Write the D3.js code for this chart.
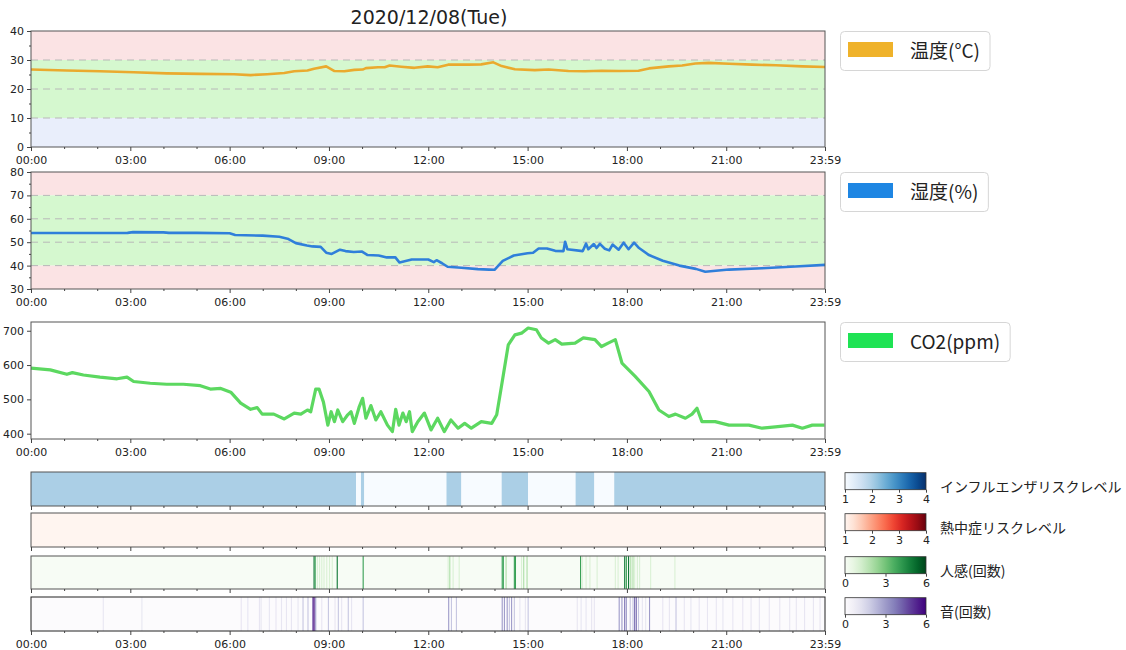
<!DOCTYPE html>
<html>
<head>
<meta charset="utf-8">
<script src="https://cdn.jsdelivr.net/npm/d3@7"></script>
<style>
  body { margin: 0; background: #fff; }
  svg text { font-family: "DejaVu Sans", sans-serif; fill: #222; }
  svg text.jp { font-family: "Noto Sans CJK JP", sans-serif; }
</style>
</head>
<body>
<main></main>
<script>
//Sensor day chart with D3

//Data
const tickLabels = ["00:00", "03:00", "06:00", "09:00", "12:00", "15:00", "18:00", "21:00", "23:59"];

const tempData = [
  ["00:00", 26.7], ["01:05", 26.4], ["02:05", 26.1], ["03:06", 25.8], ["04:06", 25.4], ["05:07", 25.2],
  ["06:08", 25.1], ["06:38", 24.8], ["07:08", 25.1], ["07:39", 25.5], ["07:57", 26.1], ["08:21", 26.4],
  ["08:33", 27.0], ["08:55", 27.8], ["09:10", 26.2], ["09:28", 26.1], ["09:46", 26.6], ["10:01", 26.7],
  ["10:07", 27.2], ["10:29", 27.5], ["10:41", 27.5], ["10:50", 28.1], ["11:11", 27.7], ["11:35", 27.3],
  ["11:59", 27.8], ["12:17", 27.5], ["12:36", 28.4], ["13:12", 28.4], ["13:36", 28.5], ["13:58", 29.2],
  ["14:13", 27.9], ["14:37", 26.8], ["15:13", 26.5], ["15:38", 26.7], ["16:14", 26.2], ["16:44", 26.1],
  ["17:14", 26.3], ["17:45", 26.2], ["18:21", 26.3], ["18:40", 27.1], ["19:16", 27.8], ["19:40", 28.1],
  ["20:04", 28.8], ["20:28", 29.0], ["21:05", 28.7], ["21:47", 28.4], ["22:30", 28.2], ["23:18", 27.8],
  ["23:59", 27.6]
];

const humidData = [
  ["00:00", 53.9], ["01:00", 53.9], ["02:00", 53.9], ["02:55", 54.0], ["03:05", 54.3], ["04:00", 54.2],
  ["04:10", 54.0], ["05:00", 54.0], ["06:00", 53.8], ["06:10", 53.1], ["07:00", 52.8], ["07:30", 52.3],
  ["07:45", 51.5], ["08:00", 49.6], ["08:20", 48.6], ["08:30", 48.2], ["08:45", 48.0], ["08:55", 45.5],
  ["09:05", 45.0], ["09:20", 46.8], ["09:30", 46.2], ["09:45", 45.8], ["10:00", 46.0], ["10:10", 44.5],
  ["10:30", 44.3], ["10:45", 43.5], ["11:00", 43.6], ["11:08", 41.3], ["11:30", 42.6], ["12:00", 42.6],
  ["12:10", 41.5], ["12:15", 42.3], ["12:25", 41.0], ["12:35", 39.5], ["13:00", 39.1], ["13:30", 38.5],
  ["13:50", 38.3], ["14:00", 38.2], ["14:05", 39.5], ["14:15", 42.0], ["14:35", 44.3], ["15:00", 45.3],
  ["15:10", 45.5], ["15:20", 47.3], ["15:35", 47.3], ["15:50", 46.3], ["16:05", 46.2], ["16:08", 50.2],
  ["16:12", 47.0], ["16:40", 46.2], ["16:46", 49.4], ["16:50", 47.0], ["17:00", 49.2], ["17:05", 47.5],
  ["17:11", 49.3], ["17:20", 47.2], ["17:28", 46.5], ["17:34", 49.0], ["17:45", 46.8], ["17:54", 49.8],
  ["18:03", 47.0], ["18:13", 49.8], ["18:22", 47.5], ["18:40", 44.5], ["19:05", 42.1], ["19:35", 40.0],
  ["20:05", 38.6], ["20:22", 37.4], ["21:05", 38.3], ["22:05", 38.9], ["23:05", 39.6], ["23:59", 40.3]
];

const co2Data = [
  ["00:00", 591], ["00:35", 586], ["01:05", 573], ["01:15", 578], ["01:35", 571], ["02:05", 565],
  ["02:36", 560], ["02:54", 565], ["03:06", 552], ["03:36", 547], ["04:06", 544], ["04:36", 544],
  ["05:07", 540], ["05:25", 530], ["05:44", 532], ["06:02", 521], ["06:20", 489], ["06:38", 471],
  ["06:50", 476], ["06:59", 457], ["07:20", 457], ["07:39", 443], ["07:57", 460], ["08:09", 457],
  ["08:21", 469], ["08:27", 464], ["08:36", 530], ["08:42", 530], ["08:50", 492], ["08:58", 425],
  ["09:04", 464], ["09:10", 435], ["09:16", 469], ["09:25", 435], ["09:34", 455], ["09:40", 464],
  ["09:46", 430], ["09:55", 479], ["10:01", 503], ["10:07", 445], ["10:16", 482], ["10:25", 440],
  ["10:34", 464], ["10:46", 425], ["10:55", 406], ["11:01", 471], ["11:07", 425], ["11:14", 460],
  ["11:20", 435], ["11:26", 464], ["11:31", 406], ["11:41", 435], ["11:53", 460], ["12:05", 411],
  ["12:17", 445], ["12:29", 406], ["12:41", 440], ["12:54", 416], ["13:06", 430], ["13:18", 416],
  ["13:36", 435], ["13:55", 430], ["14:04", 455], ["14:10", 513], ["14:16", 571], ["14:25", 659],
  ["14:37", 688], ["14:49", 693], ["15:01", 708], ["15:16", 703], ["15:25", 679], ["15:38", 664],
  ["15:50", 674], ["16:02", 661], ["16:26", 664], ["16:41", 679], ["17:02", 674], ["17:14", 654],
  ["17:26", 664], ["17:39", 674], ["17:51", 606], ["18:15", 567], ["18:40", 523], ["18:58", 469],
  ["19:16", 450], ["19:28", 457], ["19:46", 445], ["19:58", 457], ["20:07", 474], ["20:16", 435],
  ["20:40", 435], ["21:05", 425], ["21:41", 425], ["22:05", 416], ["22:29", 420], ["23:00", 425],
  ["23:18", 416], ["23:36", 425], ["23:58", 425]
];

// [start, end, level]
const fluSegments = [
  ["00:00", "09:49", 2], ["09:49", "09:58", 1], ["09:58", "10:04", 2], ["10:04", "12:33", 1],
  ["12:33", "13:00", 2], ["13:00", "14:13", 1], ["14:13", "15:01", 2], ["15:01", "16:27", 1],
  ["16:27", "17:01", 2], ["17:01", "17:37", 1], ["17:37", "23:59", 2]
];
const heatSegments = [["00:00", "23:59", 1]];

// [time, count]
const motionEvents = [
  ["08:32", 5], ["08:34", 4], ["08:38", 1], ["08:42", 1], ["08:46", 1], ["08:50", 1], ["08:55", 1],
  ["09:00", 1], ["09:05", 1], ["09:14", 5], ["10:01", 4], ["12:35", 1], ["12:38", 2], ["12:44", 1],
  ["12:55", 1], ["14:13", 4], ["14:15", 4], ["14:20", 2], ["14:35", 4], ["14:37", 4], ["14:48", 1],
  ["14:52", 2], ["14:58", 2], ["16:35", 4], ["16:38", 1], ["16:45", 1], ["16:52", 1], ["17:05", 1],
  ["17:38", 1], ["17:43", 1], ["17:55", 5], ["17:58", 4], ["18:02", 5], ["18:06", 2], ["18:10", 2],
  ["18:13", 1], ["18:18", 1], ["18:22", 1], ["18:42", 1], ["19:26", 1]
];

const soundEvents = [
  ["02:10", 1], ["03:20", 1], ["06:20", 1], ["06:32", 1], ["06:53", 1], ["06:56", 1], ["07:11", 1],
  ["07:23", 1], ["07:33", 1], ["07:42", 1], ["07:51", 1], ["08:03", 1], ["08:12", 2], ["08:21", 2],
  ["08:30", 5], ["08:32", 6], ["08:35", 3], ["08:46", 1], ["08:58", 2], ["09:10", 1], ["09:16", 2],
  ["09:22", 1], ["09:34", 2], ["09:40", 1], ["10:01", 2], ["12:36", 3], ["12:41", 2], ["12:50", 2],
  ["14:13", 3], ["14:17", 3], ["14:22", 3], ["14:26", 2], ["14:30", 3], ["14:35", 2], ["14:45", 1],
  ["14:55", 1], ["15:00", 2], ["16:29", 1], ["16:36", 1], ["16:45", 1], ["16:55", 1], ["17:00", 1],
  ["17:45", 3], ["17:50", 3], ["17:55", 4], ["17:58", 3], ["18:05", 2], ["18:10", 2], ["18:13", 4],
  ["18:16", 4], ["18:20", 2], ["18:27", 1], ["18:33", 1], ["18:40", 3], ["19:04", 1], ["19:16", 1],
  ["19:28", 2], ["19:43", 1], ["19:55", 1], ["20:10", 1], ["20:25", 1], ["20:41", 1], ["20:53", 1],
  ["21:11", 1], ["21:29", 1], ["21:44", 1], ["21:59", 1], ["22:17", 1], ["22:36", 1], ["22:54", 1],
  ["23:06", 1], ["23:21", 1], ["23:37", 1], ["23:49", 1]
];

//Parameters
const w = 1126;
const h = 650;
const binMin = 2;

const toMin = s => { const p = s.split(":").map(Number); return p[0] * 60 + p[1]; };

const x = d3.scaleLinear().domain([0, 1439]).range([31, 825]);
const majorTicks = tickLabels.map(toMin);
const minorTicks = d3.range(60, 1440, 60).filter(m => m % 180 !== 0);

//svg
const svg = d3.select("main")
  .append("svg")
  .attr("width", w)
  .attr("height", h);

//Title
svg.append("text")
  .attr("x", 429)
  .attr("y", 24)
  .attr("text-anchor", "middle")
  .style("font-size", "19px")
  .text("2020/12/08(Tue)");

function xAxis(yPos, labels) {
  const g = svg.append("g").attr("transform", "translate(0," + yPos + ")");
  g.append("g")
    .call(d3.axisBottom(x).tickValues(majorTicks).tickSize(4).tickSizeOuter(0)
      .tickFormat((d, i) => labels ? tickLabels[i] : ""))
    .call(a => a.select(".domain").remove())
    .call(a => a.selectAll("text").style("font-size", "11px").attr("dy", "0.95em"));
  g.append("g")
    .call(d3.axisBottom(x).tickValues(minorTicks).tickSize(2).tickFormat(""))
    .call(a => a.select(".domain").remove());
  g.selectAll("line").attr("stroke", "#444");
}

function frame(top, bottom, color) {
  svg.append("rect")
    .attr("x", x.range()[0])
    .attr("y", top)
    .attr("width", x.range()[1] - x.range()[0])
    .attr("height", bottom - top)
    .attr("fill", "none")
    .attr("stroke", color || "#555")
    .attr("stroke-width", 1);
}

//Line panels
function linePanel(o) {
  const y = d3.scaleLinear().domain(o.domain).range([o.bottom, o.top]);
  const g = svg.append("g");

  g.selectAll("rect.band")
    .data(o.bands)
    .enter()
    .append("rect")
    .attr("x", x.range()[0])
    .attr("width", x.range()[1] - x.range()[0])
    .attr("y", d => y(d[1]))
    .attr("height", d => y(d[0]) - y(d[1]))
    .attr("fill", d => d[2]);

  g.selectAll("line.dash")
    .data(o.dashes)
    .enter()
    .append("line")
    .attr("x1", x.range()[0])
    .attr("x2", x.range()[1])
    .attr("y1", d => y(d))
    .attr("y2", d => y(d))
    .attr("stroke", "#b8b8b8")
    .attr("stroke-width", 1)
    .attr("stroke-dasharray", "7,5");

  g.append("path")
    .datum(o.data)
    .attr("d", d3.line().x(d => x(toMin(d[0]))).y(d => y(d[1])))
    .attr("fill", "none")
    .attr("stroke", o.color)
    .attr("stroke-width", o.width)
    .attr("stroke-linejoin", "round");

  frame(o.top, o.bottom);

  const ya = svg.append("g").attr("transform", "translate(" + x.range()[0] + ",0)");
  ya.append("g")
    .call(d3.axisLeft(y).tickValues(o.yTicks).tickSize(4).tickSizeOuter(0))
    .call(a => a.select(".domain").remove())
    .call(a => a.selectAll("text").style("font-size", "11px"));
  if (o.yMinor.length) {
    ya.append("g")
      .call(d3.axisLeft(y).tickValues(o.yMinor).tickSize(2).tickFormat(""))
      .call(a => a.select(".domain").remove());
  }
  ya.selectAll("line").attr("stroke", "#444");

  xAxis(o.bottom, true);
}

const pink = "#fbe3e4", green = "#d5f8cf", blue = "#e9eefb";

linePanel({
  top: 31, bottom: 147, domain: [0, 40],
  yTicks: [0, 10, 20, 30, 40], yMinor: [5, 15, 25, 35],
  bands: [[30, 40, pink], [10, 30, green], [0, 10, blue]],
  dashes: [10, 20, 30],
  data: tempData, color: "#eaaa2e", width: 2.6
});

linePanel({
  top: 172, bottom: 289, domain: [30, 80],
  yTicks: [30, 40, 50, 60, 70, 80], yMinor: [35, 45, 55, 65, 75],
  bands: [[70, 80, pink], [40, 70, green], [30, 40, pink]],
  dashes: [40, 50, 60, 70],
  data: humidData, color: "#2f7fda", width: 2.6
});

linePanel({
  top: 322, bottom: 439, domain: [384.5, 725.5],
  yTicks: [400, 500, 600, 700], yMinor: [],
  bands: [], dashes: [],
  data: co2Data, color: "#5cd860", width: 3.2
});

//Legends
function legendBox(top, label, color) {
  const g = svg.append("g");
  const box = g.append("rect")
    .attr("x", 840.5)
    .attr("y", top + 0.5)
    .attr("rx", 4)
    .attr("height", 39)
    .attr("fill", "#fff")
    .attr("stroke", "#d6d6d6");
  g.append("rect")
    .attr("x", 848)
    .attr("y", top + 11)
    .attr("width", 45)
    .attr("height", 15)
    .attr("fill", color);
  const t = g.append("text")
    .attr("class", "jp")
    .attr("x", 910)
    .attr("y", top + 27)
    .style("font-size", "19px")
    .text(label);
  const bb = t.node().getBBox();
  box.attr("width", bb.x + bb.width + 10 - 840.5);
}

legendBox(31, "温度(°C)", "#efb22a");
legendBox(172, "湿度(%)", "#1e86e3");
legendBox(322, "CO2(ppm)", "#1fe354");

//Heatmap strips
const strips = [
  { top: 472, bottom: 506, interp: d3.interpolateBlues, domain: [1, 4], ticks: [1, 2, 3, 4],
    segments: fluSegments, label: "インフルエンザリスクレベル" },
  { top: 513, bottom: 547, interp: d3.interpolateReds, domain: [1, 4], ticks: [1, 2, 3, 4],
    segments: heatSegments, label: "熱中症リスクレベル" },
  { top: 556, bottom: 589, interp: d3.interpolateGreens, domain: [0, 6], ticks: [0, 3, 6],
    events: motionEvents, label: "人感(回数)" },
  { top: 597, bottom: 631, interp: d3.interpolatePurples, domain: [0, 6], ticks: [0, 3, 6],
    events: soundEvents, label: "音(回数)" }
];

const defs = svg.append("defs");
const cbX = d3.scaleLinear().range([845, 926]);

strips.forEach((s, i) => {
  const color = d3.scaleSequential(s.interp).domain(s.domain);
  const g = svg.append("g");

  if (s.segments) {
    g.selectAll("rect")
      .data(s.segments)
      .enter()
      .append("rect")
      .attr("x", d => x(toMin(d[0])))
      .attr("width", d => x(toMin(d[1])) - x(toMin(d[0])))
      .attr("y", s.top)
      .attr("height", s.bottom - s.top)
      .attr("fill", d => color(d[2]));
  } else {
    g.append("rect")
      .attr("x", x.range()[0])
      .attr("width", x.range()[1] - x.range()[0])
      .attr("y", s.top)
      .attr("height", s.bottom - s.top)
      .attr("fill", color(0));
    g.selectAll("rect.ev")
      .data(s.events)
      .enter()
      .append("rect")
      .attr("class", "ev")
      .attr("x", d => x(toMin(d[0])))
      .attr("width", d => x(toMin(d[0]) + binMin) - x(toMin(d[0])))
      .attr("y", s.top)
      .attr("height", s.bottom - s.top)
      .attr("fill", d => color(d[1]));
  }

  frame(s.top, s.bottom, i === 3 ? "#222" : "#555");
  xAxis(s.bottom, i === strips.length - 1);

  //Colorbar
  const gid = "cb" + i;
  const grad = defs.append("linearGradient").attr("id", gid);
  d3.range(0, 1.0001, 0.1).forEach(t => {
    grad.append("stop").attr("offset", t).attr("stop-color", s.interp(t));
  });
  const cTop = s.top + 0.7;
  svg.append("rect")
    .attr("x", 845)
    .attr("y", cTop)
    .attr("width", 81)
    .attr("height", 17)
    .attr("fill", "url(#" + gid + ")")
    .attr("stroke", "#333")
    .attr("stroke-width", 0.8);
  cbX.domain(s.domain);
  svg.append("g")
    .attr("transform", "translate(0," + (cTop + 17) + ")")
    .call(d3.axisBottom(cbX).tickValues(s.ticks).tickSize(3).tickFormat(d3.format("d")))
    .call(a => a.select(".domain").remove())
    .call(a => a.selectAll("text").style("font-size", "11px"))
    .call(a => a.selectAll("line").attr("stroke", "#444"));

  svg.append("text")
    .attr("class", "jp")
    .attr("x", 940)
    .attr("y", cTop + 13)
    .attr("dominant-baseline", "central")
    .style("font-size", "14px")
    .text(s.label);
});
</script>
</body>
</html>
